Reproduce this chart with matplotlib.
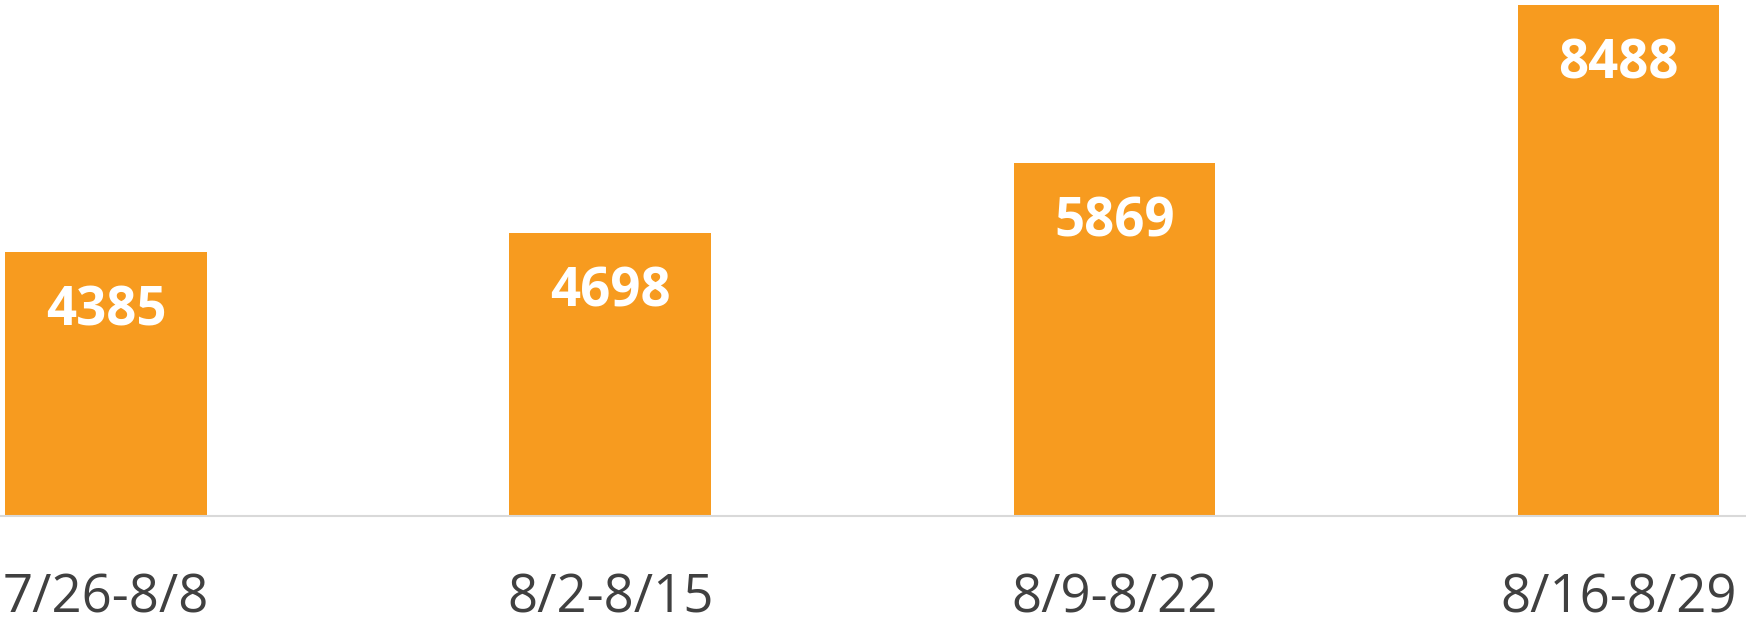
import matplotlib
matplotlib.use("Agg")
import matplotlib.pyplot as plt

categories = ["7/26-8/8", "8/2-8/15", "8/9-8/22", "8/16-8/29"]
values = [4385, 4698, 5869, 8488]

plt.rcParams['font.family'] = ['Open Sans', 'DejaVu Sans']

fig = plt.figure(figsize=(17.46, 6.23), dpi=100)
ax = fig.add_axes([0, 0.171, 1, 0.829])
x = list(range(len(categories)))
bars = ax.bar(x, values, width=0.4, color="#F79B1F", zorder=2)
ax.set_xlim(-0.2107, 3.2529)
ax.set_ylim(0, 8566)
ax.set_yticks([])
ax.set_xticks(x)
ax.set_xticklabels(categories, fontsize=38, color="#404040")
ax.tick_params(axis='x', length=0, pad=40)
for s in ["left", "right", "top"]:
    ax.spines[s].set_visible(False)
ax.spines["bottom"].set_color("#D9D9D9")
ax.spines["bottom"].set_linewidth(1.5)

for xi, v in zip(x, values):
    ax.annotate(str(v), xy=(xi, v), xytext=(0, -73.4), textcoords="offset pixels",
                ha="center", va="baseline", fontsize=38, fontweight="bold", color="white")

fig.savefig("out.png", dpi=100)
